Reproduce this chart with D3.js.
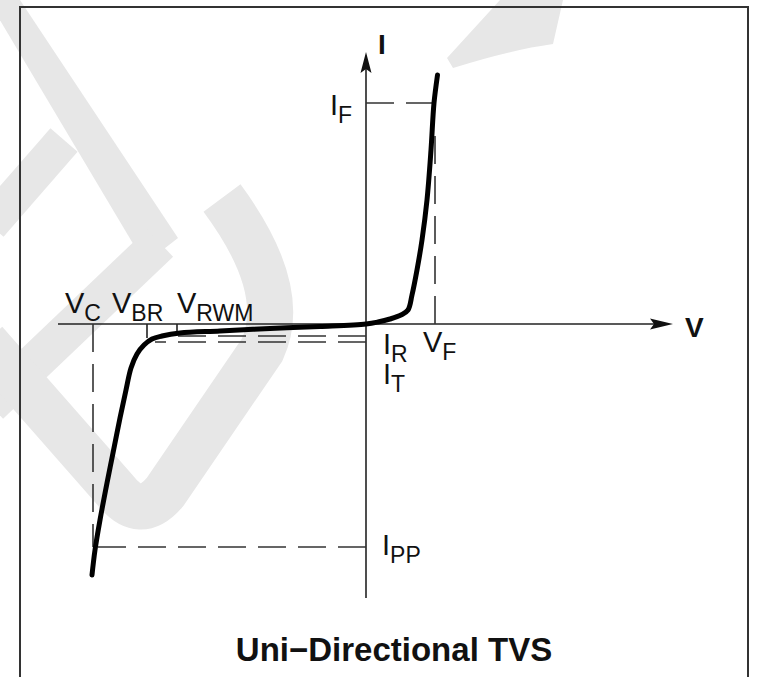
<!DOCTYPE html>
<meta charset="utf-8">
<head>
<style>
  body { margin:0; background:#fff; }
  svg { display:block; }
  text { font-family:"Liberation Sans", Arial, sans-serif; fill:#111; }
</style>
</head>
<body>
<svg id="chart" width="758" height="677"></svg>
<script src="https://d3js.org/d3.v7.min.js"></script>
<script>

// axis extents (arbitrary V / I units, origin at 0,0)
var vAxis = [-30.8, 30.7];
var iAxis = [-27.4, 27.2];

// I-V curve, from the bottom of the breakdown branch up to the forward branch
var curveV = [-27.4, -27.1, -26.6, -25.9, -25.3, -24.6, -24.0, -23.5, -22.9, -22.2, -21.4, -20.4, -18.6, -14.6, -9.6, -4.6, 0,
              1.2, 2.4, 3.5, 4.2, 4.6, 5.1, 5.6, 6.1, 6.5, 6.8, 7.15];
var curveI = [-25.1, -22.6, -19.6, -15.9, -12.9, -9.4, -6.6, -4.4, -3.0, -2.1, -1.5, -1.2, -0.9, -0.7, -0.45, -0.25, 0,
              0.2, 0.5, 0.9, 1.4, 2.9, 5.4, 8.4, 12.4, 17.4, 22.1, 24.9];

// voltage marks
var voltNames = ["C", "BR", "RWM", "F"];
var voltValues = [-27.3, -21.9, -18.9, 6.9];

// current marks
var currNames = ["F", "R", "T", "PP"];
var currValues = [22.1, -1.2, -1.8, -22.3];

var title = "Uni\u2212Directional TVS";

var svg = d3.select("#chart"),
    width = +svg.attr("width"),
    height = +svg.attr("height");

var x = d3.scaleLinear().domain([-30, 30]).range([66, 666]);
var y = d3.scaleLinear().domain([-30, 30]).range([624, 24]);

// background watermark (light grey strokes)
var wm = svg.append("g").attr("fill", "#e7e7e7").attr("stroke", "#e7e7e7");
wm.append("path").attr("stroke", "none")
  .attr("d", "M-12,0 L20,0 L178,238 L160,252 L138,252 Z");
wm.append("path").attr("fill", "none").attr("stroke-width", 36)
  .attr("d", "M-10,225 L64,140");
wm.append("path").attr("fill", "none").attr("stroke-width", 38)
  .attr("d", "M160,243 L-10,405");
wm.append("path").attr("fill", "none").attr("stroke-width", 46)
  .attr("d", "M-15,342 L115,490 Q140,522 165,492 L262,350 Q290,290 222,198");
wm.append("path").attr("stroke", "none")
  .attr("d", "M500,0 L563,0 L553,44 Q510,50 453,68 L447,58 Z");

// frame
svg.append("rect")
  .attr("x", 20).attr("y", 7)
  .attr("width", 728).attr("height", 700)
  .attr("fill", "none").attr("stroke", "#333").attr("stroke-width", 2);

// axes
var axes = svg.append("g").attr("stroke", "#222").attr("stroke-width", 1.6);
axes.append("line")
  .attr("x1", x(vAxis[0])).attr("x2", x(vAxis[1]) - 12)
  .attr("y1", y(0)).attr("y2", y(0));
axes.append("line")
  .attr("x1", x(0)).attr("x2", x(0))
  .attr("y1", y(iAxis[0])).attr("y2", y(iAxis[1]) + 12);

// arrow heads
var tx = x(vAxis[1]), ty = y(iAxis[1]);
svg.append("path").attr("fill", "#111")
  .attr("d", "M" + tx + "," + y(0) + " L" + (tx - 23) + "," + (y(0) - 5.5) + " L" + (tx - 19) + "," + y(0) + " L" + (tx - 23) + "," + (y(0) + 5.5) + " Z");
svg.append("path").attr("fill", "#111")
  .attr("d", "M" + x(0) + "," + ty + " L" + (x(0) - 5.5) + "," + (ty + 21) + " L" + x(0) + "," + (ty + 17) + " L" + (x(0) + 5.5) + "," + (ty + 21) + " Z");

// dashed guides, drawn outward from the axes
var dash = svg.append("g").attr("stroke", "#333").attr("stroke-width", 1.6)
  .attr("stroke-dasharray", "28,12").attr("fill", "none");
// I_F
dash.append("line").attr("x1", x(0)).attr("x2", x(6.7)).attr("y1", y(currValues[0])).attr("y2", y(currValues[0]));
// V_F
dash.append("line").attr("x1", x(voltValues[3])).attr("x2", x(voltValues[3])).attr("y1", y(0)).attr("y2", y(19));
// I_R, I_T
dash.append("line").attr("x1", x(0)).attr("x2", x(-20.8)).attr("y1", y(currValues[1])).attr("y2", y(currValues[1]));
dash.append("line").attr("x1", x(0)).attr("x2", x(-21.1)).attr("y1", y(currValues[2])).attr("y2", y(currValues[2]));
// V_C
dash.append("line").attr("x1", x(voltValues[0])).attr("x2", x(voltValues[0])).attr("y1", y(0)).attr("y2", y(currValues[3]));
// I_PP
dash.append("line").attr("x1", x(0)).attr("x2", x(voltValues[0])).attr("y1", y(currValues[3])).attr("y2", y(currValues[3]));

// V_BR / V_RWM ticks down to the curve
var ticks = svg.append("g").attr("stroke", "#222").attr("stroke-width", 1.6);
ticks.append("line").attr("x1", x(voltValues[1])).attr("x2", x(voltValues[1])).attr("y1", y(0)).attr("y2", y(-1.4));
ticks.append("line").attr("x1", x(voltValues[2])).attr("x2", x(voltValues[2])).attr("y1", y(0)).attr("y2", y(-0.9));

// the I-V curve
var pts = curveV.map(function(v, i){ return [v, curveI[i]]; });
svg.append("path")
  .datum(pts)
  .attr("fill", "none")
  .attr("stroke", "#000")
  .attr("stroke-width", 5)
  .attr("stroke-linecap", "round")
  .attr("stroke-linejoin", "round")
  .attr("d", d3.line()
    .x(function(d){ return x(d[0]); })
    .y(function(d){ return y(d[1]); })
    .curve(d3.curveCatmullRom.alpha(0.5)));

// labels with subscripts
function label(px, py, main, sub) {
  var t = svg.append("text").attr("x", px).attr("y", py).attr("font-size", 29);
  t.append("tspan").text(main);
  t.append("tspan").attr("dy", 8).attr("font-size", 23).text(sub);
}

var vDx = [-28, -35, 0, -12];
voltNames.forEach(function(n, i){
  var py = i < 3 ? y(0) - 11 : y(0) + 28;
  label(x(voltValues[i]) + vDx[i], py, "V", n);
});

label(x(0) - 36, y(currValues[0]) + 12, "I", currNames[0]);
label(x(0) + 17, y(0) + 30, "I", currNames[1]);
label(x(0) + 17, y(0) + 60, "I", currNames[2]);
label(x(0) + 16, y(currValues[3]) + 8, "I", currNames[3]);

// axis names
svg.append("text").attr("x", x(0) + 12).attr("y", y(iAxis[1]) + 2)
  .attr("font-size", 28).attr("font-weight", "bold").text("I");
svg.append("text").attr("x", x(vAxis[1]) + 12).attr("y", y(0) + 13)
  .attr("font-size", 28).attr("font-weight", "bold").text("V");

// title
svg.append("text").attr("x", 394).attr("y", 661)
  .attr("text-anchor", "middle")
  .attr("font-size", 33).attr("font-weight", "bold")
  .text(title);

</script>
</body>
